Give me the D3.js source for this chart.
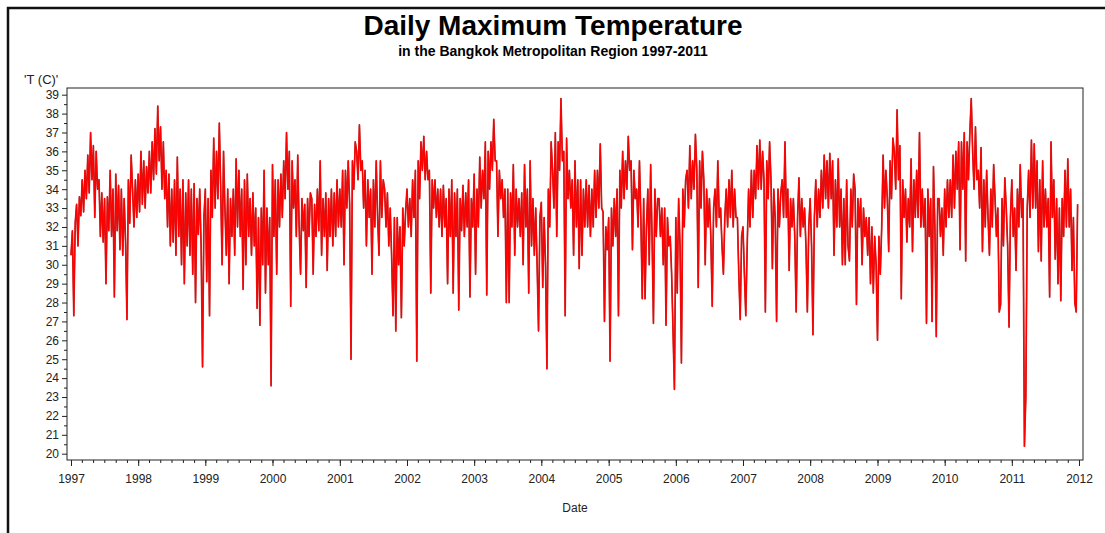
<!DOCTYPE html>
<html>
<head>
<meta charset="utf-8">
<script src="https://cdn.jsdelivr.net/npm/d3@7"></script>
<style>
  body { margin: 0; background: #fff; }
  svg { display: block; font-family: "Liberation Sans", Arial, sans-serif; }
  .tick text { fill: #222; font-size: 12px; }
</style>
</head>
<body>
<div id="chart"></div>
<script>
// daily max temperature (4 readings per month)
var years = [1997, 1998, 1999, 2000, 2001, 2002, 2003, 2004, 2005, 2006, 2007, 2008, 2009, 2010, 2011];

var t1997 = [30.5,31.8,27.3,32.2, 33.2,31.0,33.6,32.6, 34.5,32.8,35.0,33.5, 35.8,33.8,37.0,34.5,
  36.3,32.5,36.0,34.0, 34.5,31.5,33.8,31.2, 33.5,29.0,33.6,31.8, 35.0,31.5,34.0,28.3,
  34.8,31.8,34.2,30.8, 34.0,30.5,33.5,31.2, 27.1,34.5,32.2,35.8, 34.0,32.0,34.5,32.5];
var t1998 = [34.8,32.8,36.0,33.2, 35.5,33.0,35.2,33.8, 36.0,33.8,36.5,34.5, 37.2,34.8,38.4,35.5,
  37.3,34.0,36.5,33.5, 35.0,32.0,34.8,31.0, 34.0,31.2,34.5,30.5, 35.7,31.5,34.0,30.0,
  34.5,29.0,33.8,31.0, 34.5,30.5,34.0,29.5, 34.3,28.0,33.5,31.6, 34.0,31.0,24.6,32.5];
var t1999 = [34.0,29.1,33.5,27.3, 35.0,32.5,36.7,33.0, 36.0,33.5,37.5,34.0, 30.0,36.0,33.0,30.5,
  34.0,29.0,33.5,31.5, 34.0,30.5,35.6,32.0, 35.0,31.5,34.0,28.7, 34.5,30.0,34.8,31.5,
  33.5,30.5,33.8,31.0, 33.0,27.7,32.5,26.8, 33.0,30.0,35.0,28.5, 33.0,30.0,32.5,23.6];
var t2000 = [35.3,31.5,34.5,29.5, 34.5,32.0,34.8,32.5, 35.5,33.5,37.0,34.0, 36.0,27.8,35.5,33.0,
  34.5,31.5,35.8,32.0, 29.5,33.5,31.8,33.2, 28.8,33.5,31.5,33.8, 33.5,29.5,33.2,31.5,
  34.0,31.8,35.5,30.5, 33.5,31.5,33.8,29.7, 33.5,31.5,34.0,31.0, 33.8,31.5,34.5,32.0];
var t2001 = [34.0,32.0,35.0,30.0, 35.0,33.0,35.5,33.2, 25.0,35.5,34.0,36.5, 36.0,34.5,37.4,35.0,
  35.5,33.0,35.0,31.0, 34.5,32.5,34.0,29.5, 34.5,32.0,35.5,32.5, 30.5,35.5,32.5,34.5,
  34.0,32.0,33.8,31.0, 33.0,30.5,27.3,32.5, 26.5,32.5,30.0,32.0, 27.2,33.0,31.0,32.8];
var t2002 = [34.0,32.0,33.5,31.5, 34.5,32.5,35.0,24.9, 35.5,33.5,36.5,35.0, 36.8,34.5,36.0,34.5,
  35.0,28.5,34.5,33.0, 34.5,32.5,34.0,32.0, 34.0,31.5,34.2,32.0, 33.5,29.0,34.0,31.5,
  34.5,28.5,33.8,31.5, 34.0,27.6,33.5,31.8, 34.2,31.5,33.8,32.0, 34.5,28.3,33.5,32.0];
var t2003 = [34.8,29.5,34.0,32.0, 35.7,33.0,35.0,33.5, 36.5,28.4,36.0,34.0, 36.5,35.0,37.7,35.5,
  35.5,31.5,35.0,33.5, 34.5,32.5,34.0,28.0, 34.0,28.0,33.8,32.0, 35.3,30.5,34.0,32.0,
  33.5,31.5,33.8,30.0, 35.3,32.0,34.0,28.5, 35.5,31.0,33.5,30.5, 33.0,30.0,26.5,32.5];
var t2004 = [33.3,28.8,32.5,30.0, 24.5,34.0,32.0,36.5, 35.0,33.0,37.0,31.5, 36.5,35.0,38.8,35.5,
  36.0,27.3,36.7,33.5, 35.0,33.0,34.5,30.5, 35.5,32.0,34.5,29.8, 34.5,30.5,34.0,32.0,
  34.5,32.0,34.2,31.5, 34.0,32.0,35.0,32.5, 35.0,33.0,36.4,33.0, 32.8,27.0,32.0,30.8];
var t2005 = [32.5,24.9,33.0,31.0, 33.5,31.5,34.0,27.3, 35.0,33.0,36.0,33.5, 35.5,34.0,36.8,35.0,
  35.5,30.8,35.0,33.5, 34.0,32.0,35.5,32.5, 28.2,33.5,28.2,32.0, 34.0,30.0,35.3,31.5,
  26.9,34.0,31.5,33.5, 33.5,31.5,33.0,30.0, 33.0,26.8,32.5,31.0, 31.5,29.5,26.5,23.4];
var t2006 = [32.5,28.5,33.5,31.0, 24.8,34.0,32.0,34.5, 35.0,33.0,36.3,33.5, 35.5,34.0,36.9,35.0,
  28.8,35.5,33.0,36.0, 34.5,30.0,34.0,32.0, 33.5,31.5,27.8,33.0, 34.0,32.0,35.5,32.5,
  33.0,31.0,29.5,32.5, 34.0,32.0,34.5,32.5, 35.0,32.0,34.0,32.5, 32.5,29.5,27.1,31.5];
var t2007 = [32.0,29.5,27.3,31.0, 34.0,32.0,35.0,32.5, 35.0,33.5,36.3,34.0, 36.6,34.0,36.0,34.5,
  27.5,35.5,33.5,36.5, 34.5,29.8,34.0,32.5, 27.0,34.0,32.0,33.8, 34.5,32.5,36.5,32.5,
  34.0,29.7,33.5,32.0, 33.5,31.5,27.5,32.5, 34.6,31.5,33.5,32.0, 33.0,31.0,27.5,32.0];
var t2008 = [33.5,31.0,26.3,32.5, 34.5,32.0,34.0,32.5, 35.0,33.0,35.8,33.5, 35.5,33.0,35.9,33.5,
  35.5,30.5,34.5,32.0, 35.6,32.0,34.0,30.0, 33.5,30.0,34.5,31.0, 30.2,34.0,32.0,34.8,
  34.0,27.9,33.5,32.0, 33.5,30.0,33.0,31.5, 32.5,30.5,32.5,29.0, 32.0,28.5,31.5,30.0];
var t2009 = [26.0,31.5,29.5,32.0, 35.8,33.0,35.0,33.5, 30.7,35.5,33.5,36.7, 36.0,34.0,38.2,34.5,
  36.3,28.2,34.5,32.5, 34.0,31.2,33.5,32.0, 35.6,30.7,34.5,32.5, 35.0,32.5,37.0,32.0,
  34.0,32.0,33.5,26.9, 34.0,31.5,33.5,27.0, 35.2,32.0,26.2,33.5, 33.5,31.5,33.0,30.5];
var t2010 = [34.0,32.0,34.5,32.5, 34.5,32.5,35.8,33.0, 36.0,34.0,36.5,30.8, 36.5,34.0,37.0,30.2,
  36.5,34.5,37.0,38.8, 36.0,34.0,37.3,34.5, 35.0,33.0,36.2,30.7, 34.5,32.0,35.0,32.5,
  30.5,34.0,32.0,35.3, 33.5,31.5,33.0,27.5, 27.9,33.5,31.0,34.6, 33.0,31.0,26.7,32.5];
var t2011 = [34.5,31.5,33.0,29.7, 34.0,32.0,35.3,32.5, 33.5,20.4,23.0,33.0, 35.0,32.5,36.6,33.0,
  36.4,33.0,35.5,30.7, 34.5,30.2,35.5,32.0, 34.0,32.0,33.5,28.3, 36.5,32.5,34.5,30.3,
  33.5,29.0,33.0,28.1, 33.5,31.5,35.0,32.0, 35.6,32.0,34.0,29.7, 32.5,28.0,27.5,33.2];

var series = [t1997, t1998, t1999, t2000, t2001, t2002, t2003, t2004,
  t2005, t2006, t2007, t2008, t2009, t2010, t2011];

var yTickValues = [20, 21, 22, 23, 24, 25, 26, 27, 28, 29, 30, 31, 32, 33, 34, 35, 36, 37, 38, 39];
var xTickYears = [1997, 1998, 1999, 2000, 2001, 2002, 2003, 2004, 2005, 2006, 2007, 2008, 2009, 2010, 2011, 2012];

var W = 1105, H = 533;
var margin = { top: 88, left: 67 },
  width = 1016,
  height = 372;

// one point per reading, spread evenly over its year
var data = [];
years.forEach(function(yr, k) {
  var start = new Date(yr, 0, 1), end = new Date(yr + 1, 0, 1);
  series[k].forEach(function(v, i) {
    data.push({ date: new Date(+start + (end - start) * i / series[k].length), value: v });
  });
});

var svg = d3.select("#chart").append("svg")
  .attr("width", W)
  .attr("height", H);

// outer border of the figure
svg.append("rect")
  .attr("x", 8).attr("y", 8)
  .attr("width", W + 20).attr("height", H + 20)
  .attr("fill", "none")
  .attr("stroke", "#111")
  .attr("stroke-width", 2.5);

svg.append("text")
  .attr("x", 553).attr("y", 35)
  .attr("text-anchor", "middle")
  .style("font-size", "28px").style("font-weight", "bold")
  .text("Daily Maximum Temperature");

svg.append("text")
  .attr("x", 553).attr("y", 56)
  .attr("text-anchor", "middle")
  .style("font-size", "14px").style("font-weight", "bold")
  .text("in the Bangkok Metropolitan Region 1997-2011");

var g = svg.append("g")
  .attr("transform", "translate(" + margin.left + "," + margin.top + ")");

var x = d3.scaleTime()
  .domain([new Date(1997, 0, 1), new Date(2012, 0, 1)])
  .range([4, width - 4]);

var y = d3.scaleLinear()
  .domain([20, 39])
  .range([height - 6.3, 6.7]);

// minor ticks
var xMinor = d3.timeMonth.every(2).range(new Date(1997, 0, 1), new Date(2012, 0, 2));
g.append("g")
  .attr("transform", "translate(0," + height + ")")
  .call(d3.axisBottom(x).tickValues(xMinor).tickSize(3).tickFormat(""))
  .call(function(a) { a.select(".domain").remove(); });

g.append("g")
  .call(d3.axisLeft(y).tickValues(yTickValues.slice(0, -1).map(function(v) { return v + 0.5; }))
    .tickSize(3).tickFormat(""))
  .call(function(a) { a.select(".domain").remove(); });

g.append("g")
  .attr("transform", "translate(0," + height + ")")
  .call(d3.axisBottom(x)
    .tickValues(xTickYears.map(function(yr) { return new Date(yr, 0, 1); }))
    .tickSize(6).tickPadding(8)
    .tickFormat(d3.timeFormat("%Y")))
  .call(function(a) { a.select(".domain").remove(); });

g.append("g")
  .call(d3.axisLeft(y).tickValues(yTickValues).tickSize(5).tickPadding(3).tickFormat(d3.format("d")))
  .call(function(a) { a.select(".domain").remove(); });

g.selectAll(".tick line").attr("stroke", "#222");

var line = d3.line()
  .x(function(d) { return x(d.date); })
  .y(function(d) { return y(d.value); });

g.append("path")
  .datum(data)
  .attr("fill", "none")
  .attr("stroke", "#b03030")
  .attr("stroke-width", 1.7)
  .attr("stroke-linejoin", "round")
  .attr("d", line);

g.append("path")
  .datum(data)
  .attr("fill", "none")
  .attr("stroke", "#ff0000")
  .attr("stroke-width", 1.2)
  .attr("stroke-linejoin", "round")
  .attr("d", line);

// plot frame
g.append("rect")
  .attr("x", 0).attr("y", 0)
  .attr("width", width).attr("height", height)
  .attr("fill", "none")
  .attr("stroke", "#222")
  .attr("stroke-width", 1);

svg.append("text")
  .attr("x", 24).attr("y", 84)
  .style("font-size", "13px").style("fill", "#222")
  .text("'T (C)'");

svg.append("text")
  .attr("x", 575).attr("y", 512)
  .attr("text-anchor", "middle")
  .style("font-size", "12px").style("fill", "#222")
  .text("Date");
</script>
</body>
</html>
